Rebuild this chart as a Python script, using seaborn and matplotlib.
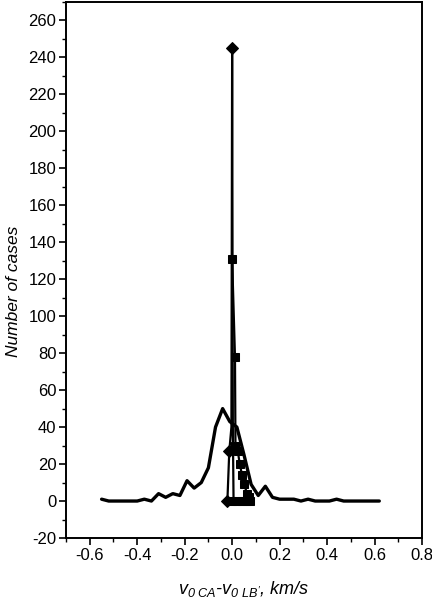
import matplotlib
matplotlib.use("Agg")
import matplotlib.pyplot as plt
import seaborn as sns
from matplotlib.ticker import MultipleLocator

# wide distribution (solid thick line)
wide_x = [-0.55, -0.52, -0.49, -0.46, -0.43, -0.40, -0.37, -0.34, -0.31, -0.28,
          -0.25, -0.22, -0.19, -0.16, -0.13, -0.10, -0.07, -0.04, -0.01, 0.02,
          0.05, 0.08, 0.11, 0.14, 0.17, 0.20, 0.23, 0.26, 0.29, 0.32,
          0.35, 0.38, 0.41, 0.44, 0.47, 0.50, 0.53, 0.56, 0.59, 0.62]
wide_y = [1, 0, 0, 0, 0, 0, 1, 0, 4, 2,
          4, 3, 11, 7, 10, 18, 40, 50, 43, 40,
          25, 9, 3, 8, 2, 1, 1, 1, 0, 1,
          0, 0, 0, 1, 0, 0, 0, 0, 0, 0]

# narrow distribution, diamonds
diam_x = [-0.02, -0.012, -0.003, 0.0, 0.003, 0.006]
diam_y = [0, 27, 40, 245, 40, 0]

# narrow distribution, squares
sq_x = [0.0, 0.012, 0.014, 0.024, 0.032, 0.042, 0.052, 0.062, 0.072]
sq_y = [131, 78, 30, 27, 20, 14, 9, 4, 2]
sq_x0 = [0.0, 0.02, 0.04, 0.06, 0.075]
sq_y0 = [0, 0, 0, 0, 0]

sns.set_style("ticks")
plt.rcParams["font.family"] = ["Liberation Sans", "DejaVu Sans"]
plt.rcParams["axes.unicode_minus"] = False
plt.rcParams["axes.labelcolor"] = "black"
plt.rcParams["mathtext.fontset"] = "custom"
plt.rcParams["mathtext.rm"] = "Liberation Sans:italic"
plt.rcParams["mathtext.it"] = "Liberation Sans:italic"

fig, ax = plt.subplots(figsize=(4.32, 6.0), dpi=100)
fig.subplots_adjust(left=66 / 432, right=422 / 432, top=1 - 2 / 600, bottom=1 - 538 / 600)

sns.lineplot(x=wide_x, y=wide_y, color="black", linewidth=2.4, ax=ax)
sns.lineplot(x=sq_x0, y=sq_y0, color="black", linewidth=1.6, marker="s",
             markersize=6, markeredgecolor="black", ax=ax)
sns.lineplot(x=sq_x, y=sq_y, color="black", linewidth=1.6, marker="s",
             markersize=6, markeredgecolor="black", ax=ax)
sns.lineplot(x=diam_x, y=diam_y, color="black", linewidth=1.6, marker="D",
             markersize=6, markeredgecolor="black", ax=ax,
             markevery=[0, 1, 3])

ax.set_xlim(-0.7, 0.8)
ax.set_ylim(-20, 270)
ax.xaxis.set_minor_locator(MultipleLocator(0.1))
ax.yaxis.set_major_locator(MultipleLocator(20))
ax.yaxis.set_minor_locator(MultipleLocator(10))
ax.set_xticks([-0.6, -0.4, -0.2, 0.0, 0.2, 0.4, 0.6, 0.8])
ax.set_xticklabels(["-0.6", "-0.4", "-0.2", "0.0", "0.2", "0.4", "0.6", "0.8"])
ax.tick_params(which="major", direction="out", length=5, width=1.2, pad=2,
               labelsize=12, colors="black")
ax.tick_params(which="minor", direction="out", length=3, width=1.0, colors="black")

for s in ax.spines.values():
    s.set_linewidth(1.4)
    s.set_color("black")

ax.set_ylabel("Number of cases", fontsize=12.5, style="italic", color="black")
ax.yaxis.set_label_coords(-0.125, 0.46)
ax.set_xlabel(r"$v_{0\ CA}$-$v_{0\ LB'}$, km/s", fontsize=13, style="italic",
              color="black", labelpad=12)

fig.savefig("out.png", dpi=100)
